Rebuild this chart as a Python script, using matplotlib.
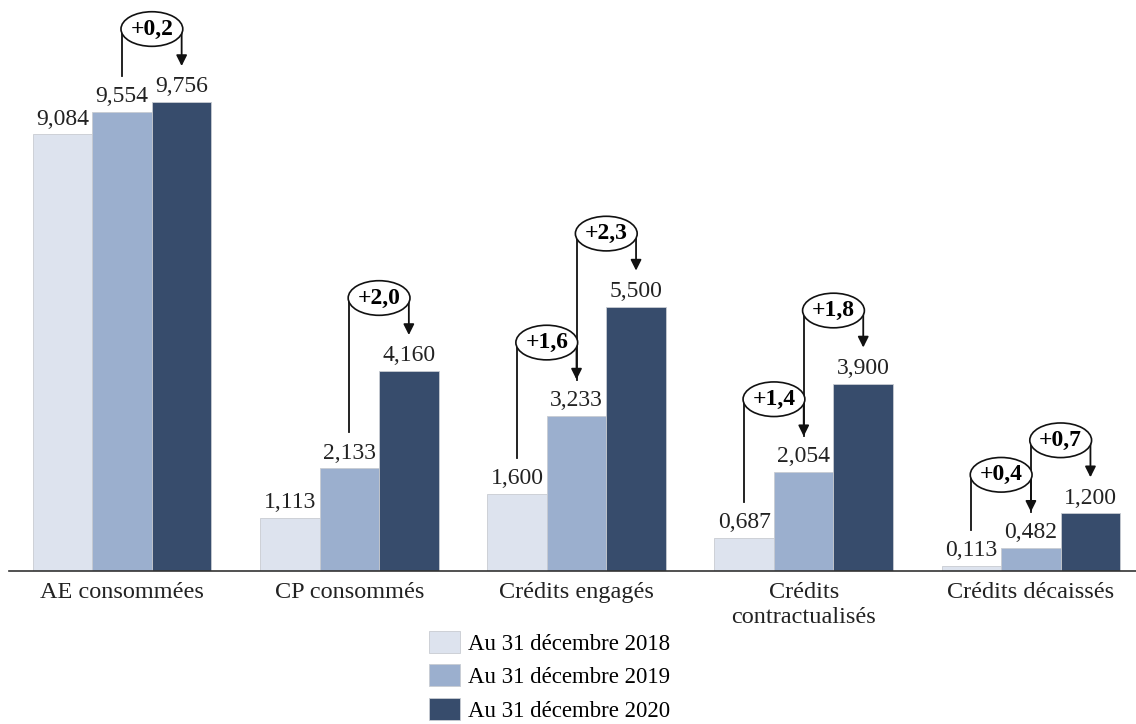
import matplotlib.pyplot as plt
from matplotlib.patches import Ellipse, Patch
import numpy as np

categories = ['AE consommées', 'CP consommés', 'Crédits engagés', 'Crédits\ncontractualisés', 'Crédits décaissés']
series = ['Au 31 décembre 2018', 'Au 31 décembre 2019', 'Au 31 décembre 2020']
v2018 = [9.084, 1.113, 1.600, 0.687, 0.113]
v2019 = [9.554, 2.133, 3.233, 2.054, 0.482]
v2020 = [9.756, 4.160, 5.500, 3.900, 1.200]
# (group, from series, to series, label)
deltas = [(0, 1, 2, '+0,2'), (1, 1, 2, '+2,0'), (2, 0, 1, '+1,6'), (2, 1, 2, '+2,3'),
          (3, 0, 1, '+1,4'), (3, 1, 2, '+1,8'), (4, 0, 1, '+0,4'), (4, 1, 2, '+0,7')]

colors = ['#dde3ee', '#9bafce', '#374c6c']
plt.rcParams['font.family'] = ['Liberation Serif', 'DejaVu Serif']

fig = plt.figure(figsize=(11.36, 7.24), dpi=100)
ax = fig.add_axes([0.0075, 0.2113, 1.0, 0.7887])
ax.set_xlim(-0.5, 4.5)
ax.set_ylim(0, 11.88)

w = 0.262
x = np.arange(len(categories))
vals = [v2018, v2019, v2020]
for i, (v, c) in enumerate(zip(vals, colors)):
    ax.bar(x + (i - 1) * w, v, w, color=c, edgecolor='#c8ccd2', linewidth=0.6, label=series[i])
    for xi, vi in zip(x, v):
        ax.text(xi + (i - 1) * w, vi + 0.1, f'{vi:.3f}'.replace('.', ','), ha='center', va='bottom', fontsize=17, color='#222222')

for g, a, b, lab in deltas:
    xa = g + (a - 1) * w
    xb = g + (b - 1) * w
    ya = vals[a][g] + 0.75
    yb = vals[b][g] + 0.75
    ye = vals[b][g] + 1.52
    ax.plot([xa, xa], [ya, ye], color='#111111', lw=1.3)
    ax.annotate('', xy=(xb, yb), xytext=(xb, ye),
                arrowprops=dict(arrowstyle='-|>', color='#111111', lw=1.3, mutation_scale=16, shrinkA=0, shrinkB=0))
    ax.add_patch(Ellipse(((xa + xb) / 2, ye), xb - xa + 0.01, 0.72, facecolor='white', edgecolor='#111111', lw=1.2, zorder=3))
    ax.text((xa + xb) / 2, ye, lab, ha='center', va='center', fontsize=17, fontweight='bold', zorder=4)

for s in ['top', 'right', 'left']:
    ax.spines[s].set_visible(False)
ax.spines['bottom'].set_color('#333333')
ax.spines['bottom'].set_linewidth(1.2)
ax.set_yticks([])
ax.set_xticks(x)
ax.set_xticklabels(categories, fontsize=17.5, color='#222222', linespacing=1.25)
ax.tick_params(axis='x', length=0, pad=8)

handles = [Patch(facecolor=c, edgecolor='#c8ccd2', linewidth=0.6) for c in colors]
fig.legend(handles, series, loc='upper left', bbox_to_anchor=(429 / 1136, 1 - 631 / 724), frameon=False,
           fontsize=16.5, handlelength=1.35, handleheight=1.1, handletextpad=0.35, labelspacing=0.42, borderpad=0,
           borderaxespad=0)

fig.savefig('out.png', dpi=100)
